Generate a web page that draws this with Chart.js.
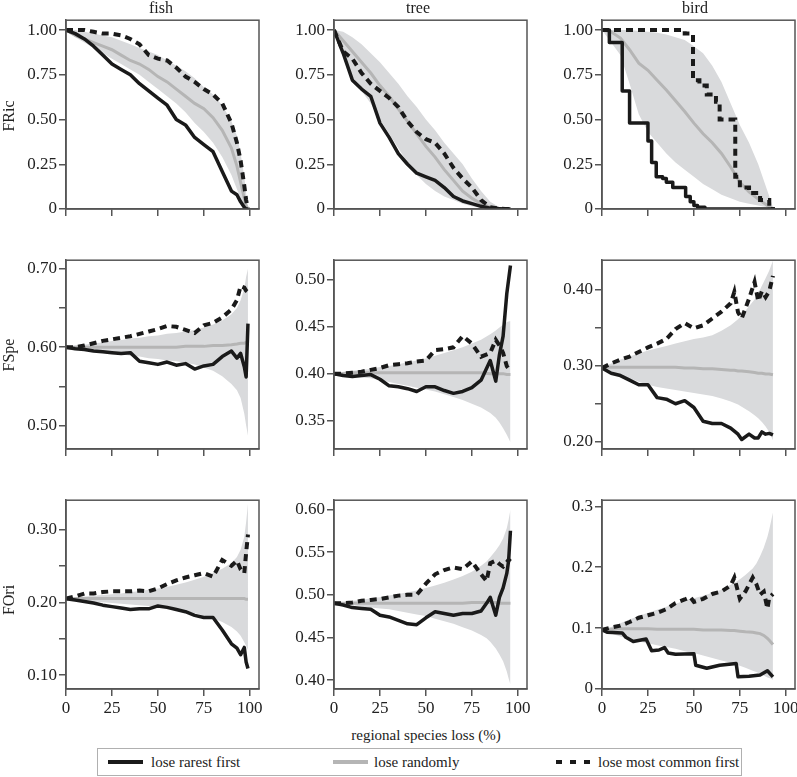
<!DOCTYPE html>
<html>
<head>
<meta charset="utf-8">
<script src="https://cdn.jsdelivr.net/npm/chart.js@4"></script>
<style>
  body { margin: 0; width: 797px; height: 777px; overflow: hidden; background: #fff; position: relative;
         font-family: "Liberation Serif", "DejaVu Serif", serif; color: #222; }
  .panel { position: absolute; }
  .lbl { position: absolute; font-size: 16px; white-space: nowrap; line-height: 16px; }
  .small { font-size: 15px; line-height: 15px; }
  .rot { transform: translate(-50%, -50%) rotate(-90deg); }
  .ctr { transform: translate(-50%, -50%); }
  #legend { position: absolute; left: 97px; top: 748px; width: 643px; height: 26px; border: 1.5px solid #b0b0b0; }
  .sample { position: absolute; top: 11px; height: 4px; }
</style>
</head>
<body>
<div id="charts"></div>

<div class="lbl ctr" style="left:161px;top:8px">fish</div>
<div class="lbl ctr" style="left:418px;top:8px">tree</div>
<div class="lbl ctr" style="left:695px;top:8px">bird</div>
<div class="lbl rot" style="left:9px;top:116px">FRic</div>
<div class="lbl rot" style="left:9px;top:355px">FSpe</div>
<div class="lbl rot" style="left:9px;top:600px">FOri</div>
<div class="lbl small ctr" style="left:426px;top:735px">regional species loss (%)</div>

<div id="legend">
  <div class="sample" style="left:10px;width:35px;background:#1a1a1a"></div>
  <div class="lbl small" style="left:53px;top:6px">lose rarest first</div>
  <div class="sample" style="left:235px;width:35px;background:#b5b5b5"></div>
  <div class="lbl small" style="left:276px;top:6px">lose randomly</div>
  <div class="sample" style="left:458px;width:6px;background:#1a1a1a"></div>
  <div class="sample" style="left:472px;width:6px;background:#1a1a1a"></div>
  <div class="sample" style="left:486px;width:6px;background:#1a1a1a"></div>
  <div class="lbl small" style="left:500px;top:6px">lose most common first</div>
</div>

<script>
// x grid and tick values
const xTicks = [0, 25, 50, 75, 100];

const fishX = [0, 5, 10, 15, 20, 25, 30, 35, 40, 45, 50, 55, 60, 65, 70, 75, 80, 85, 90, 93, 95, 97, 98, 99];
const treeX = [0, 5, 10, 15, 20, 25, 30, 35, 40, 45, 50, 55, 60, 65, 70, 75, 80, 85, 90, 93, 96];
const birdX = [0, 5, 10, 15, 20, 25, 30, 35, 40, 45, 50, 55, 60, 65, 70, 75, 80, 85, 90, 93];
const treeX2 = [0, 5, 10, 15, 20, 25, 30, 35, 40, 45, 50, 55, 60, 65, 70, 75, 80, 85, 88, 90, 92, 94, 96];
const birdX2 = [0, 5, 10, 15, 20, 25, 30, 35, 40, 45, 50, 55, 60, 65, 70, 72, 74, 76, 80, 83, 85, 87, 89, 91, 93];
const treeX3 = [0, 5, 10, 15, 20, 25, 30, 35, 40, 45, 50, 55, 60, 65, 70, 75, 80, 83, 85, 88, 90, 92, 94, 95, 96];
const birdX3 = [0, 5, 10, 15, 20, 25, 30, 35, 40, 45, 48, 50, 55, 60, 65, 70, 72, 75, 78, 82, 84, 86, 88, 90, 91, 93];

// FRic
const fishFRicRare = [1.00, 0.98, 0.95, 0.91, 0.86, 0.81, 0.78, 0.75, 0.70, 0.66, 0.62, 0.58, 0.50, 0.47, 0.40, 0.36, 0.32, 0.21, 0.10, 0.08, 0.04, 0.01, 0, 0];
const fishFRicCommon = [1.00, 1.00, 1.00, 0.99, 0.98, 0.98, 0.97, 0.95, 0.92, 0.86, 0.84, 0.83, 0.79, 0.74, 0.71, 0.67, 0.64, 0.59, 0.48, 0.37, 0.27, 0.13, 0.05, 0];
const fishFRicRandom = [1.00, 0.97, 0.95, 0.93, 0.91, 0.89, 0.86, 0.83, 0.81, 0.78, 0.74, 0.71, 0.67, 0.63, 0.59, 0.56, 0.51, 0.44, 0.34, 0.24, 0.15, 0.06, 0.02, 0];
const fishFRicHi = [1.00, 1.00, 0.99, 0.98, 0.97, 0.96, 0.94, 0.92, 0.90, 0.88, 0.86, 0.83, 0.80, 0.77, 0.73, 0.68, 0.64, 0.58, 0.49, 0.41, 0.31, 0.18, 0.09, 0];
const fishFRicLo = [1.00, 0.96, 0.93, 0.90, 0.87, 0.84, 0.81, 0.78, 0.75, 0.71, 0.67, 0.63, 0.59, 0.54, 0.48, 0.43, 0.37, 0.29, 0.19, 0.11, 0.06, 0.01, 0, 0];

const treeFRicRare = [1.00, 0.87, 0.72, 0.67, 0.63, 0.48, 0.40, 0.31, 0.25, 0.20, 0.18, 0.16, 0.12, 0.07, 0.045, 0.03, 0.015, 0.005, 0.002, 0, 0];
const treeFRicCommon = [1.00, 0.88, 0.84, 0.76, 0.70, 0.66, 0.62, 0.57, 0.49, 0.43, 0.39, 0.37, 0.31, 0.23, 0.17, 0.12, 0.05, 0.01, 0.003, 0, 0];
const treeFRicRandom = [1.00, 0.94, 0.88, 0.82, 0.76, 0.69, 0.63, 0.56, 0.49, 0.42, 0.35, 0.29, 0.22, 0.16, 0.10, 0.06, 0.03, 0.01, 0.003, 0, 0];
const treeFRicHi = [1.00, 0.99, 0.96, 0.92, 0.87, 0.82, 0.76, 0.70, 0.63, 0.57, 0.50, 0.44, 0.37, 0.31, 0.25, 0.17, 0.10, 0.04, 0.01, 0, 0];
const treeFRicLo = [1.00, 0.86, 0.74, 0.66, 0.59, 0.50, 0.42, 0.34, 0.26, 0.19, 0.14, 0.10, 0.07, 0.05, 0.03, 0.015, 0.005, 0, 0, 0, 0];

const birdFRicRareX = [0, 4, 11, 15, 25, 27, 29.5, 33, 35, 38.5, 45.5, 48, 50, 52, 56, 93];
const birdFRicRare = [1.00, 0.93, 0.66, 0.48, 0.38, 0.26, 0.18, 0.17, 0.15, 0.12, 0.07, 0.04, 0.02, 0.01, 0, 0];
const birdFRicCommonX = [0, 45, 49.5, 53, 57, 62, 64, 72.5, 75, 80, 86, 91, 93];
const birdFRicCommon = [1.00, 0.98, 0.72, 0.69, 0.64, 0.60, 0.50, 0.18, 0.12, 0.09, 0.05, 0.015, 0];
const birdFRicRandom = [1.00, 0.99, 0.955, 0.89, 0.815, 0.775, 0.72, 0.665, 0.605, 0.545, 0.48, 0.42, 0.37, 0.31, 0.235, 0.15, 0.095, 0.055, 0.02, 0];
const birdFRicHi = [1.00, 1.00, 1.00, 1.00, 0.995, 0.99, 0.985, 0.975, 0.96, 0.945, 0.91, 0.87, 0.80, 0.71, 0.59, 0.47, 0.37, 0.25, 0.10, 0.01];
const birdFRicLo = [1.00, 0.93, 0.86, 0.70, 0.53, 0.43, 0.37, 0.31, 0.26, 0.22, 0.18, 0.14, 0.11, 0.08, 0.06, 0.04, 0.03, 0.02, 0.01, 0];

// FSpe
const fishFSpeRare = [0.600, 0.598, 0.597, 0.595, 0.594, 0.593, 0.592, 0.593, 0.582, 0.580, 0.578, 0.581, 0.577, 0.579, 0.572, 0.576, 0.578, 0.588, 0.595, 0.586, 0.592, 0.575, 0.562, 0.630];
const fishFSpeCommon = [0.600, 0.600, 0.602, 0.605, 0.608, 0.610, 0.612, 0.614, 0.617, 0.620, 0.623, 0.627, 0.626, 0.622, 0.618, 0.628, 0.631, 0.638, 0.648, 0.660, 0.678, 0.676, 0.672, 0.670];
const fishFSpeRandom = [0.600, 0.600, 0.600, 0.600, 0.600, 0.600, 0.600, 0.600, 0.600, 0.600, 0.600, 0.600, 0.600, 0.601, 0.601, 0.601, 0.602, 0.602, 0.603, 0.604, 0.605, 0.605, 0.606, 0.606];
const fishFSpeHi = [0.600, 0.602, 0.603, 0.605, 0.606, 0.608, 0.609, 0.611, 0.612, 0.614, 0.615, 0.617, 0.618, 0.620, 0.622, 0.625, 0.629, 0.634, 0.642, 0.650, 0.660, 0.675, 0.690, 0.700];
const fishFSpeLo = [0.600, 0.598, 0.597, 0.595, 0.594, 0.592, 0.591, 0.589, 0.588, 0.586, 0.585, 0.583, 0.582, 0.580, 0.578, 0.574, 0.570, 0.563, 0.553, 0.545, 0.535, 0.515, 0.500, 0.487];

const treeFSpeRare = [0.400, 0.398, 0.397, 0.398, 0.399, 0.394, 0.387, 0.386, 0.384, 0.381, 0.386, 0.386, 0.382, 0.379, 0.381, 0.385, 0.393, 0.414, 0.392, 0.420, 0.440, 0.485, 0.515];
const treeFSpeCommon = [0.400, 0.400, 0.401, 0.402, 0.404, 0.406, 0.409, 0.410, 0.411, 0.413, 0.414, 0.425, 0.426, 0.428, 0.440, 0.432, 0.418, 0.422, 0.436, 0.430, 0.422, 0.408, 0.403];
const treeFSpeRandom = [0.400, 0.400, 0.401, 0.401, 0.401, 0.401, 0.401, 0.401, 0.401, 0.401, 0.401, 0.401, 0.401, 0.401, 0.401, 0.401, 0.401, 0.400, 0.400, 0.400, 0.400, 0.399, 0.399];
const treeFSpeHi = [0.400, 0.402, 0.403, 0.404, 0.405, 0.407, 0.408, 0.410, 0.412, 0.414, 0.416, 0.419, 0.422, 0.425, 0.428, 0.432, 0.436, 0.442, 0.446, 0.449, 0.452, 0.455, 0.456];
const treeFSpeLo = [0.400, 0.398, 0.397, 0.396, 0.395, 0.393, 0.391, 0.389, 0.387, 0.385, 0.383, 0.381, 0.378, 0.375, 0.372, 0.368, 0.364, 0.358, 0.353, 0.348, 0.342, 0.335, 0.327];

const birdFSpeRare = [0.297, 0.290, 0.287, 0.281, 0.275, 0.275, 0.258, 0.256, 0.250, 0.254, 0.245, 0.227, 0.224, 0.224, 0.218, 0.214, 0.210, 0.203, 0.210, 0.205, 0.205, 0.213, 0.210, 0.211, 0.209];
const birdFSpeCommon = [0.297, 0.303, 0.308, 0.312, 0.318, 0.324, 0.329, 0.335, 0.348, 0.356, 0.349, 0.353, 0.362, 0.371, 0.382, 0.397, 0.370, 0.362, 0.388, 0.410, 0.385, 0.398, 0.390, 0.398, 0.418];
const birdFSpeRandom = [0.298, 0.298, 0.298, 0.298, 0.298, 0.298, 0.298, 0.298, 0.298, 0.297, 0.297, 0.296, 0.296, 0.295, 0.294, 0.294, 0.293, 0.293, 0.292, 0.291, 0.290, 0.290, 0.289, 0.289, 0.288];
const birdFSpeHi = [0.298, 0.303, 0.308, 0.312, 0.316, 0.320, 0.323, 0.326, 0.329, 0.332, 0.335, 0.337, 0.340, 0.346, 0.353, 0.357, 0.361, 0.366, 0.378, 0.387, 0.395, 0.405, 0.415, 0.425, 0.438];
const birdFSpeLo = [0.297, 0.292, 0.287, 0.283, 0.279, 0.275, 0.272, 0.270, 0.268, 0.266, 0.264, 0.262, 0.260, 0.257, 0.253, 0.251, 0.249, 0.246, 0.240, 0.235, 0.231, 0.226, 0.220, 0.213, 0.202];

// FOri
const fishFOriRare = [0.205, 0.203, 0.201, 0.199, 0.196, 0.194, 0.192, 0.190, 0.191, 0.191, 0.195, 0.193, 0.190, 0.187, 0.182, 0.179, 0.179, 0.162, 0.143, 0.137, 0.128, 0.138, 0.118, 0.109];
const fishFOriCommon = [0.205, 0.208, 0.212, 0.212, 0.214, 0.215, 0.215, 0.215, 0.216, 0.215, 0.219, 0.225, 0.230, 0.234, 0.237, 0.240, 0.235, 0.258, 0.250, 0.257, 0.245, 0.240, 0.268, 0.293];
const fishFOriRandom = [0.205, 0.205, 0.205, 0.205, 0.205, 0.205, 0.205, 0.205, 0.205, 0.205, 0.205, 0.205, 0.205, 0.205, 0.205, 0.205, 0.205, 0.205, 0.205, 0.205, 0.205, 0.205, 0.204, 0.204];
const fishFOriHi = [0.205, 0.207, 0.208, 0.209, 0.210, 0.211, 0.212, 0.214, 0.215, 0.217, 0.219, 0.221, 0.224, 0.227, 0.231, 0.235, 0.240, 0.246, 0.254, 0.262, 0.272, 0.290, 0.310, 0.335];
const fishFOriLo = [0.205, 0.203, 0.202, 0.201, 0.200, 0.199, 0.198, 0.197, 0.196, 0.195, 0.194, 0.192, 0.190, 0.188, 0.185, 0.182, 0.178, 0.173, 0.166, 0.160, 0.154, 0.145, 0.140, 0.135];

const treeFOriRare = [0.490, 0.488, 0.485, 0.484, 0.483, 0.476, 0.474, 0.470, 0.466, 0.465, 0.473, 0.480, 0.478, 0.476, 0.478, 0.478, 0.481, 0.490, 0.497, 0.476, 0.497, 0.508, 0.525, 0.540, 0.575];
const treeFOriCommon = [0.490, 0.490, 0.491, 0.493, 0.494, 0.495, 0.497, 0.499, 0.500, 0.500, 0.513, 0.524, 0.529, 0.532, 0.530, 0.539, 0.524, 0.516, 0.537, 0.540, 0.536, 0.533, 0.538, 0.541, 0.539];
const treeFOriRandom = [0.490, 0.490, 0.490, 0.490, 0.490, 0.490, 0.490, 0.490, 0.490, 0.490, 0.490, 0.490, 0.490, 0.490, 0.490, 0.491, 0.491, 0.491, 0.491, 0.491, 0.490, 0.490, 0.490, 0.490, 0.490];
const treeFOriHi = [0.490, 0.491, 0.493, 0.494, 0.496, 0.497, 0.499, 0.501, 0.503, 0.505, 0.508, 0.511, 0.514, 0.518, 0.522, 0.527, 0.534, 0.539, 0.544, 0.552, 0.558, 0.566, 0.578, 0.588, 0.600];
const treeFOriLo = [0.490, 0.489, 0.488, 0.486, 0.485, 0.484, 0.483, 0.481, 0.479, 0.477, 0.475, 0.472, 0.469, 0.466, 0.462, 0.458, 0.453, 0.449, 0.445, 0.437, 0.430, 0.422, 0.410, 0.402, 0.395];

const birdFOriRareX = [0, 3, 11, 13, 17, 24, 27, 31, 34, 36, 40, 50, 51, 57, 64, 73, 74, 80, 86, 90, 93];
const birdFOriRare = [0.097, 0.093, 0.092, 0.085, 0.078, 0.082, 0.063, 0.064, 0.068, 0.059, 0.057, 0.058, 0.039, 0.034, 0.039, 0.042, 0.020, 0.021, 0.023, 0.030, 0.020];
const birdFOriCommon = [0.097, 0.101, 0.104, 0.110, 0.117, 0.121, 0.125, 0.131, 0.141, 0.147, 0.151, 0.143, 0.148, 0.156, 0.160, 0.170, 0.183, 0.148, 0.160, 0.183, 0.172, 0.155, 0.160, 0.132, 0.150, 0.156];
const birdFOriRandom = [0.097, 0.098, 0.099, 0.099, 0.099, 0.099, 0.098, 0.098, 0.098, 0.098, 0.098, 0.098, 0.097, 0.097, 0.097, 0.096, 0.096, 0.095, 0.094, 0.093, 0.092, 0.091, 0.088, 0.083, 0.080, 0.073];
const birdFOriHi = [0.097, 0.102, 0.108, 0.114, 0.120, 0.125, 0.130, 0.135, 0.140, 0.145, 0.148, 0.149, 0.153, 0.158, 0.163, 0.171, 0.174, 0.180, 0.187, 0.198, 0.206, 0.218, 0.232, 0.250, 0.262, 0.290];
const birdFOriLo = [0.097, 0.091, 0.086, 0.082, 0.078, 0.075, 0.072, 0.069, 0.066, 0.062, 0.060, 0.059, 0.055, 0.051, 0.047, 0.043, 0.041, 0.038, 0.035, 0.030, 0.028, 0.025, 0.022, 0.019, 0.018, 0.015];

// y tick values and their labels ('' = tick without label)
const fricTicks = [0, 0.25, 0.5, 0.75, 1];
const fricLabels = ['0', '0.25', '0.50', '0.75', '1.00'];
const fishFSpeTicks = [0.5, 0.55, 0.6, 0.65, 0.7];
const fishFSpeLabels = ['0.50', '', '0.60', '', '0.70'];
const treeFSpeTicks = [0.35, 0.4, 0.45, 0.5];
const treeFSpeLabels = ['0.35', '0.40', '0.45', '0.50'];
const birdFSpeTicks = [0.2, 0.25, 0.3, 0.35, 0.4];
const birdFSpeLabels = ['0.20', '', '0.30', '', '0.40'];
const fishFOriTicks = [0.1, 0.15, 0.2, 0.25, 0.3];
const fishFOriLabels = ['0.10', '', '0.20', '', '0.30'];
const treeFOriTicks = [0.4, 0.45, 0.5, 0.55, 0.6];
const treeFOriLabels = ['0.40', '0.45', '0.50', '0.55', '0.60'];
const birdFOriTicks = [0, 0.1, 0.2, 0.3];
const birdFOriLabels = ['0', '0.1', '0.2', '0.3'];

// plot box positions on the page
const colLeft = [66, 334, 602];
const rowTop = [18, 258, 498];
const boxW = 193, boxH = 191;
const padL = 60, padT = 10, padR = 12, padB = 32;

function pts(xs, ys) {
    return xs.map((x, i) => ({ x: x, y: ys[i] }));
}

const panels = [
    { row: 0, col: 0, yMin: 0, yMax: 1.055, ticks: fricTicks, labels: fricLabels,
      rare: pts(fishX, fishFRicRare), common: pts(fishX, fishFRicCommon), random: pts(fishX, fishFRicRandom),
      hi: pts(fishX, fishFRicHi), lo: pts(fishX, fishFRicLo) },
    { row: 0, col: 1, yMin: 0, yMax: 1.055, ticks: fricTicks, labels: fricLabels,
      rare: pts(treeX, treeFRicRare), common: pts(treeX, treeFRicCommon), random: pts(treeX, treeFRicRandom),
      hi: pts(treeX, treeFRicHi), lo: pts(treeX, treeFRicLo) },
    { row: 0, col: 2, yMin: 0, yMax: 1.055, ticks: fricTicks, labels: fricLabels, stepped: true,
      rare: pts(birdFRicRareX, birdFRicRare), common: pts(birdFRicCommonX, birdFRicCommon), random: pts(birdX, birdFRicRandom),
      hi: pts(birdX, birdFRicHi), lo: pts(birdX, birdFRicLo) },
    { row: 1, col: 0, yMin: 0.47, yMax: 0.711, ticks: fishFSpeTicks, labels: fishFSpeLabels,
      rare: pts(fishX, fishFSpeRare), common: pts(fishX, fishFSpeCommon), random: pts(fishX, fishFSpeRandom),
      hi: pts(fishX, fishFSpeHi), lo: pts(fishX, fishFSpeLo) },
    { row: 1, col: 1, yMin: 0.3198, yMax: 0.5207, ticks: treeFSpeTicks, labels: treeFSpeLabels,
      rare: pts(treeX2, treeFSpeRare), common: pts(treeX2, treeFSpeCommon), random: pts(treeX2, treeFSpeRandom),
      hi: pts(treeX2, treeFSpeHi), lo: pts(treeX2, treeFSpeLo) },
    { row: 1, col: 2, yMin: 0.1905, yMax: 0.4386, ticks: birdFSpeTicks, labels: birdFSpeLabels,
      rare: pts(birdX2, birdFSpeRare), common: pts(birdX2, birdFSpeCommon), random: pts(birdX2, birdFSpeRandom),
      hi: pts(birdX2, birdFSpeHi), lo: pts(birdX2, birdFSpeLo) },
    { row: 2, col: 0, yMin: 0.081, yMax: 0.340, ticks: fishFOriTicks, labels: fishFOriLabels,
      rare: pts(fishX, fishFOriRare), common: pts(fishX, fishFOriCommon), random: pts(fishX, fishFOriRandom),
      hi: pts(fishX, fishFOriHi), lo: pts(fishX, fishFOriLo) },
    { row: 2, col: 1, yMin: 0.3896, yMax: 0.6108, ticks: treeFOriTicks, labels: treeFOriLabels,
      rare: pts(treeX3, treeFOriRare), common: pts(treeX3, treeFOriCommon), random: pts(treeX3, treeFOriRandom),
      hi: pts(treeX3, treeFOriHi), lo: pts(treeX3, treeFOriLo) },
    { row: 2, col: 2, yMin: 0, yMax: 0.310, ticks: birdFOriTicks, labels: birdFOriLabels,
      rare: pts(birdFOriRareX, birdFOriRare), common: pts(birdX3, birdFOriCommon), random: pts(birdX3, birdFOriRandom),
      hi: pts(birdX3, birdFOriHi), lo: pts(birdX3, birdFOriLo) }
];

// box around every plot region
const framePlugin = {
    id: 'frame',
    afterDraw(chart) {
        const a = chart.chartArea;
        const ctx = chart.ctx;
        ctx.save();
        ctx.strokeStyle = '#555';
        ctx.lineWidth = 1.5;
        ctx.strokeRect(a.left, a.top, a.right - a.left, a.bottom - a.top);
        ctx.restore();
    }
};

const tickFont = { family: '"Liberation Serif", "DejaVu Serif", serif', size: 17 };

function drawPanel(p) {
    const holder = document.createElement('div');
    holder.className = 'panel';
    holder.style.left = (colLeft[p.col] - padL) + 'px';
    holder.style.top = (rowTop[p.row] - padT) + 'px';
    const canvas = document.createElement('canvas');
    canvas.width = padL + boxW + padR;
    canvas.height = padT + boxH + padB;
    holder.appendChild(canvas);
    document.getElementById('charts').appendChild(holder);

    new Chart(canvas.getContext('2d'), {
        type: 'line',
        data: {
            datasets: [
                { data: p.common, borderColor: '#1a1a1a', borderWidth: 4, borderDash: [7, 5],
                  stepped: p.stepped ? 'before' : false, fill: false },
                { data: p.rare, borderColor: '#1a1a1a', borderWidth: 3.5, borderJoinStyle: 'round',
                  stepped: p.stepped ? 'before' : false, fill: false },
                { data: p.random, borderColor: '#b5b5b5', borderWidth: 3, fill: false },
                { data: p.hi, borderColor: 'rgba(0,0,0,0)', borderWidth: 1, backgroundColor: '#d9dadc', fill: '+1' },
                { data: p.lo, borderColor: 'rgba(0,0,0,0)', borderWidth: 1, fill: false }
            ]
        },
        options: {
            responsive: false,
            animation: false,
            devicePixelRatio: 1,
            layout: { padding: { top: padT, right: padR, left: 0, bottom: 0 } },
            elements: { point: { radius: 0 }, line: { tension: 0 } },
            plugins: { legend: { display: false }, tooltip: { enabled: false }, title: { display: false } },
            scales: {
                x: {
                    type: 'linear', min: 0, max: 105,
                    afterBuildTicks: s => { s.ticks = xTicks.map(v => ({ value: v })); },
                    afterFit: s => { s.height = padB; },
                    grid: { drawOnChartArea: false, drawTicks: true, tickLength: 7, color: '#555', lineWidth: 1.5 },
                    border: { display: true, color: '#555', width: 1.5 },
                    ticks: { autoSkip: false, maxRotation: 0, padding: 2, color: '#222', font: tickFont,
                             callback: v => p.row === 2 ? String(v) : '' }
                },
                y: {
                    type: 'linear', min: p.yMin, max: p.yMax,
                    afterBuildTicks: s => { s.ticks = p.ticks.map(v => ({ value: v })); },
                    afterFit: s => { s.width = padL; },
                    grid: { drawOnChartArea: false, drawTicks: true, tickLength: 7, color: '#555', lineWidth: 1.5 },
                    border: { display: true, color: '#555', width: 1.5 },
                    ticks: { autoSkip: false, padding: 2, color: '#222', font: tickFont,
                             callback: (v, i) => p.labels[i] }
                }
            }
        },
        plugins: [framePlugin]
    });
}

panels.forEach(drawPanel);
</script>
</body>
</html>
